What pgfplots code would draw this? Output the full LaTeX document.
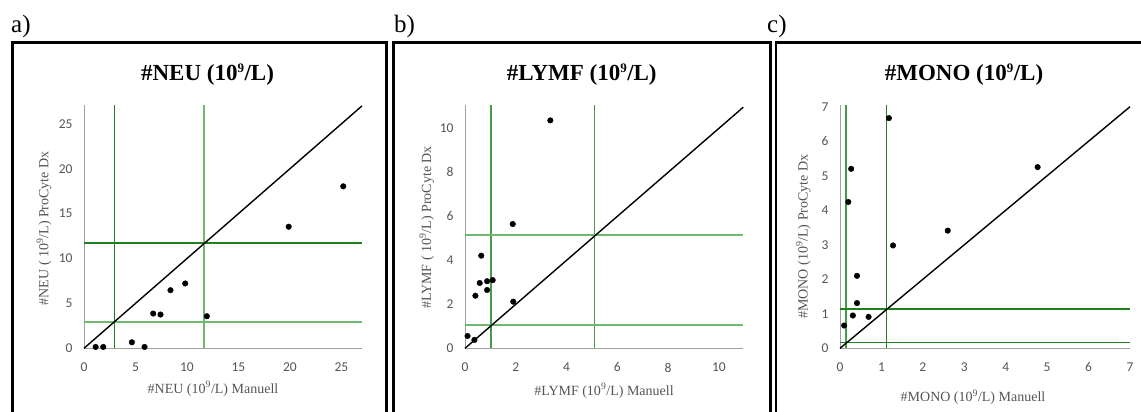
\documentclass[border=0pt]{standalone}
\usepackage{pgfplots}
\pgfplotsset{compat=1.18}
\usepackage{fontspec}
\setmainfont{Liberation Serif}
\newfontfamily\calib{Carlito}
\definecolor{dgreen}{RGB}{30,128,30}
\definecolor{mgreen}{RGB}{70,155,70}
\definecolor{lgreen}{RGB}{110,185,110}
\definecolor{axgray}{RGB}{160,160,160}
\definecolor{lblgray}{RGB}{85,85,85}
\pgfplotsset{panel/.style={
  scale only axis, anchor=south west,
  height=243.3bp,
  axis lines=left, axis line style={axgray, line width=0.9bp, -},
  enlargelimits=false,
  major tick length=0pt,
  tick label style={font=\calib\fontsize{13.5bp}{15bp}\selectfont, text=lblgray},
  /pgf/number format/assume math mode=true,
  xticklabel style={yshift=-11bp},
  yticklabel style={xshift=-8bp},
  clip=false,
}}
\tikzset{gl/.style={line width=1.4bp}, hl/.style={line width=1.6bp}, dot/.style={only marks, mark=*, mark size=2.8bp, black}}
\begin{document}
\begin{tikzpicture}
\useasboundingbox (0,0) rectangle (1141bp,412bp);
\fill[white] (0,0) rectangle (1141bp,412bp);
% panel a
\begin{axis}[panel, at={(84bp,63.7bp)}, width=278bp,
  xmin=0, xmax=27, ymin=0, ymax=27.1,
  xtick={0,5,10,15,20,25}, ytick={0,5,10,15,20,25}]
\addplot[gl, dgreen] coordinates {(2.95,0) (2.95,27.1)};
\addplot[gl, lgreen] coordinates {(11.65,0) (11.65,27.1)};
\addplot[hl, color=dgreen] coordinates {(0,11.72) (27,11.72)};
\addplot[hl, color=lgreen] coordinates {(0,2.95) (27,2.95)};
\addplot[gl, black] coordinates {(0,0) (27,27)};
\addplot[dot] coordinates {
(1.13,0.15) (1.87,0.15) (4.65,0.67) (5.88,0.15) (6.72,3.87) (7.43,3.76)
(8.4,6.47) (9.83,7.22) (11.93,3.57) (19.88,13.54) (25.18,18.04)};
\end{axis}
% panel b
\begin{axis}[panel, at={(465bp,63.7bp)}, width=278.3bp,
  xmin=0, xmax=10.96, ymin=0, ymax=11.06,
  xtick={0,2,4,6,8,10}, ytick={0,2,4,6,8,10}]
\addplot[gl, mgreen] coordinates {(1.02,0) (1.02,11.06)};
\addplot[gl, mgreen] coordinates {(5.09,0) (5.09,11.06)};
\addplot[hl, color=lgreen] coordinates {(0,5.15) (10.96,5.15)};
\addplot[hl, color=lgreen] coordinates {(0,1.06) (10.96,1.06)};
\addplot[gl, black] coordinates {(0,0) (10.96,10.96)};
\addplot[dot] coordinates {
(0.1,0.56) (0.37,0.38) (0.41,2.39) (0.58,2.97) (0.64,4.21) (0.87,3.05)
(0.87,2.65) (1.09,3.1) (1.9,2.12) (1.88,5.65) (3.36,10.36)};
\end{axis}
% panel c
\begin{axis}[panel, at={(840bp,63.7bp)}, width=290bp,
  xmin=0, xmax=7, ymin=0, ymax=7.05,
  xtick={0,1,...,7}, ytick={0,1,...,7}]
\addplot[gl, mgreen] coordinates {(0.145,0) (0.145,7.05)};
\addplot[gl, dgreen] coordinates {(1.12,0) (1.12,7.05)};
\addplot[hl, color=dgreen] coordinates {(0,1.145) (7,1.145)};
\addplot[hl, color=dgreen] coordinates {(0,0.17) (7,0.17)};
\addplot[gl, black] coordinates {(0,0) (7,7)};
\addplot[dot] coordinates {
(0.1,0.66) (0.2,4.24) (0.27,5.2) (0.31,0.95) (0.41,2.1) (0.41,1.31)
(0.69,0.91) (1.18,6.67) (1.28,2.98) (2.6,3.41) (4.77,5.25)};
\end{axis}
% frames
\draw[line width=2.5bp] (12.5bp,-2bp) -- (12.5bp,369.5bp) -- (386.5bp,369.5bp) -- (386.5bp,-2bp);
\draw[line width=2.5bp] (393.5bp,-2bp) -- (393.5bp,369.5bp) -- (770.5bp,369.5bp) -- (770.5bp,-2bp);
\draw[line width=2.5bp] (776bp,-2bp) -- (776bp,369.5bp) -- (1150bp,369.5bp);
% panel letters
\begin{scope}[every node/.style={inner sep=0pt, font=\fontsize{25bp}{28bp}\selectfont}]
\node[anchor=base west] at (11bp,379bp) {a)};
\node[anchor=base west] at (394bp,379bp) {b)};
\node[anchor=base west] at (767bp,379bp) {c)};
\end{scope}
% titles
\begin{scope}[every node/.style={inner sep=0pt, font=\bfseries\fontsize{23bp}{26bp}\selectfont}]
\node[anchor=base] at (207.5bp,331bp) {\#NEU (10\textsuperscript{\fontsize{13bp}{13bp}\selectfont 9}/L)};
\node[anchor=base] at (581.7bp,331bp) {\#LYMF (10\textsuperscript{\fontsize{13bp}{13bp}\selectfont 9}/L)};
\node[anchor=base] at (964bp,331bp) {\#MONO (10\textsuperscript{\fontsize{13bp}{13bp}\selectfont 9}/L)};
\end{scope}
% axis labels
\begin{scope}[every node/.style={inner sep=0pt, text=lblgray, font=\fontsize{14bp}{16bp}\selectfont}]
\node[anchor=base] at (213bp,19bp) {\#NEU (10\textsuperscript{9}/L) Manuell};
\node[anchor=base] at (604bp,17bp) {\#LYMF (10\textsuperscript{9}/L) Manuell};
\node[anchor=base] at (973bp,10.5bp) {\#MONO (10\textsuperscript{9}/L) Manuell};
\node[rotate=90, anchor=center] at (44bp,183.7bp) {\#NEU ( 10\textsuperscript{9}/L) ProCyte Dx};
\node[rotate=90, anchor=center] at (426.7bp,184.5bp) {\#LYMF ( 10\textsuperscript{9}/L) ProCyte Dx};
\node[rotate=90, anchor=center] at (803.3bp,175.3bp) {\#MONO (10\textsuperscript{9}/L) ProCyte Dx};
\end{scope}
\end{tikzpicture}
\end{document}
